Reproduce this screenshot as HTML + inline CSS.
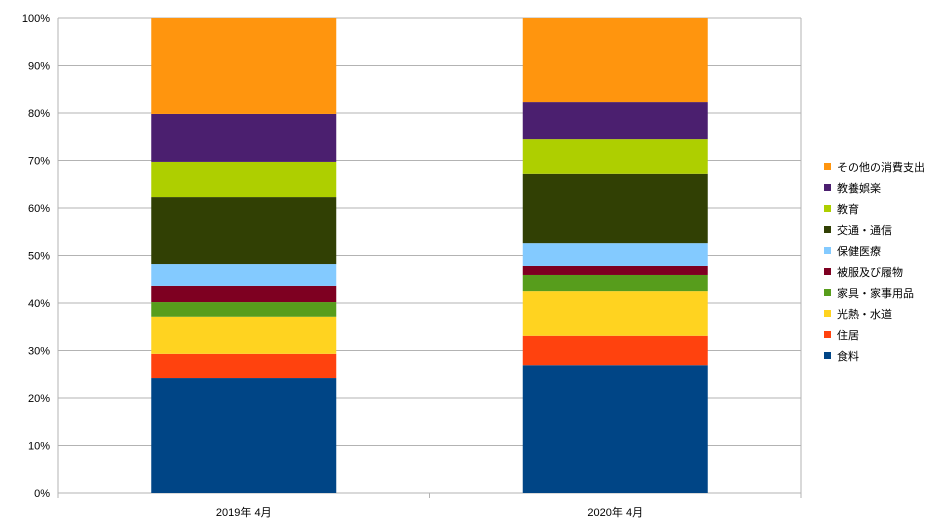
<!DOCTYPE html>
<html><head><meta charset="utf-8"><style>
body{margin:0;background:#fff;}
svg{display:block;font-family:"Liberation Sans","Noto Sans CJK JP",sans-serif;}
</style></head><body>
<svg id="c" width="943" height="530"></svg>
<script>
const categories=["2019年 4月","2020年 4月"];
const seriesNames=["食料","住居","光熱・水道","家具・家事用品","被服及び履物","保健医療","交通・通信","教育","教養娯楽","その他の消費支出"];
const bar2019=[24.2,5.1,7.8,3.1,3.4,4.6,14.1,7.4,10.1,20.2];
const bar2020=[26.9,6.2,9.4,3.4,1.9,4.8,14.6,7.3,7.8,17.7];
const yTicks=[0,10,20,30,40,50,60,70,80,90,100];
const colors=["#004586","#ff420e","#ffd320","#579d1c","#7e0021","#83caff","#314004","#aecf00","#4b1f6f","#ff950e"];
const values=[bar2019,bar2020];
const NS="http://www.w3.org/2000/svg";
const svg=document.getElementById('c');
const L=58,R=801,T=18,B=493;
const y=v=>B-(v/100)*(B-T);
const band=(R-L)/categories.length;
const xc=i=>L+band*(i+0.5);
const bw=185;
function mk(t,a){const e=document.createElementNS(NS,t);for(const k in a)e.setAttribute(k,a[k]);svg.appendChild(e);return e;}
yTicks.forEach(t=>{
  const g=mk('line',{x1:L,x2:R,y1:y(t),y2:y(t),stroke:'#b3b3b3','stroke-width':1});
  
  
  const tx=mk('text',{x:L-8,y:y(t)+4,'text-anchor':'end','font-size':11,fill:'#000'});
  tx.textContent=t+'%';
  
  
});
mk('line',{x1:L,x2:L,y1:T,y2:B,stroke:'#b3b3b3'});
mk('line',{x1:R,x2:R,y1:T,y2:B,stroke:'#b3b3b3'});
for(let i=0;i<=categories.length;i++){mk('line',{x1:L+band*i,x2:L+band*i,y1:B,y2:B+5,stroke:'#b3b3b3'});}
categories.forEach((c,i)=>{
  let acc=0;
  values[i].forEach((v,s)=>{
    const r=mk('rect',{x:xc(i)-bw/2,y:y(acc+v),width:bw,height:y(acc)-y(acc+v),fill:colors[s]});
    
    
    acc+=v;
  });
  const tx=mk('text',{x:xc(i),y:516,'text-anchor':'middle','font-size':11,fill:'#000'});
  tx.textContent=c;
  
  
});
seriesNames.forEach((n,s)=>{
  const ly=360-s*21;
  const r=mk('rect',{x:824,y:ly-8,width:7,height:7,fill:colors[s]});
  
  
  const tx=mk('text',{x:837,y:ly,'font-size':11,fill:'#000'});
  tx.textContent=n;
  
  
});
</script>
</body></html>
